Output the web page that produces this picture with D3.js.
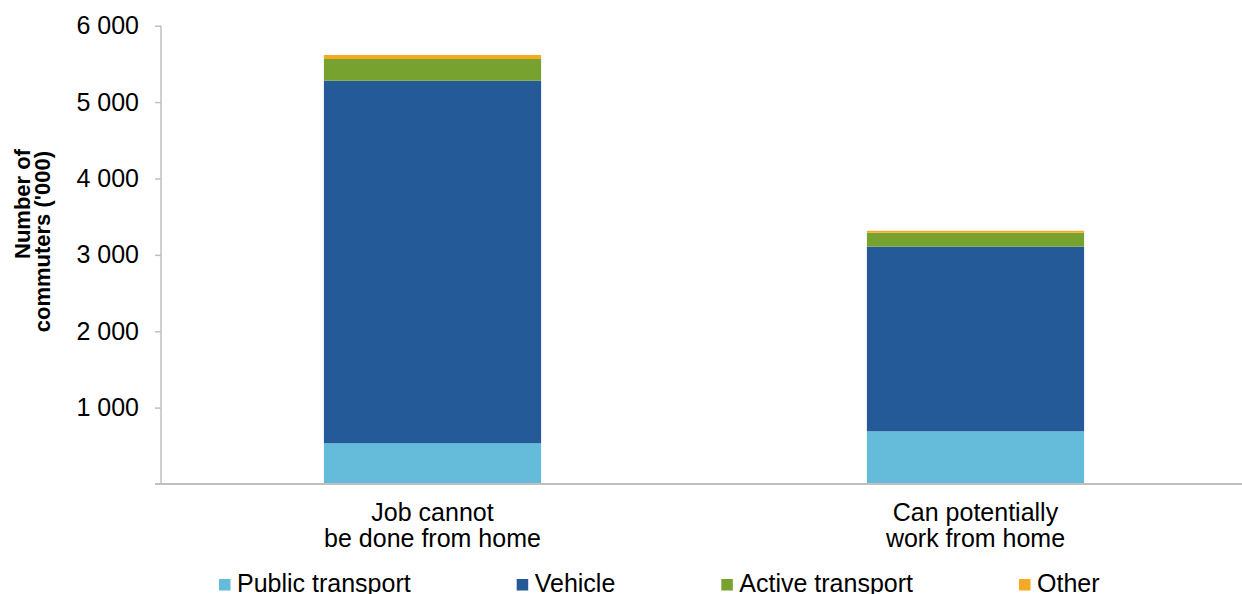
<!DOCTYPE html>
<html>
<head>
<meta charset="utf-8">
<script src="https://d3js.org/d3.v7.min.js"></script>
<style>
body{margin:0;background:#fff;}
svg{display:block;font-family:"Liberation Sans",Arial,sans-serif;}
</style>
</head>
<body>
<svg></svg>
<script>
//data
var categories = [["Job cannot","be done from home"],["Can potentially","work from home"]];
var seriesNames = ["Public transport","Vehicle","Active transport","Other"];
var seriesColors = ["#65bbda","#255a98","#77a22f","#f4ab23"];
var publicTransport = [533,690];
var vehicle = [4747,2417];
var activeTransport = [284,183];
var other = [53,25];
var yTicks = [1000,2000,3000,4000,5000,6000];

var screen = {width:1242,height:594};
var margins = {top:25.7,left:161,bottom:110,right:-5};
var width = screen.width-margins.left-margins.right;
var height = 484-margins.top;

var svg = d3.select('svg')
          .attr('width',screen.width)
          .attr('height',screen.height);

//build rows for the stack
var table = categories.map(function(c,i)
{
  return {
    idx:i,
    "Public transport":publicTransport[i],
    "Vehicle":vehicle[i],
    "Active transport":activeTransport[i],
    "Other":other[i]
  };
});
var stack = d3.stack().keys(seriesNames)(table);

var xScale = d3.scaleBand()
            .domain(d3.range(categories.length))
            .range([0,width])
            .paddingInner(0.6)
            .paddingOuter(0.3);
var yScale = d3.scaleLinear()
            .domain([0,6000])
            .range([height,0]);

var plotLand = svg.append('g')
              .classed('plot',true)
              .attr('transform','translate('+margins.left+','+margins.top+')');

//bars
var layers = plotLand.selectAll('.layer')
            .data(stack)
            .enter()
            .append('g')
            .attr('class','layer')
            .attr('fill',function(d,i){return seriesColors[i];});
layers.selectAll('rect')
      .data(function(d){return d;})
      .enter()
      .append('rect')
      .attr('x',function(d){return xScale(d.data.idx);})
      .attr('y',function(d){return yScale(d[1]);})
      .attr('width',xScale.bandwidth())
      .attr('height',function(d){return yScale(d[0])-yScale(d[1]);});

//y axis
var yAxis = d3.axisLeft(yScale)
            .tickValues(yTicks)
            .tickSize(6)
            .tickPadding(16)
            .tickFormat(function(d){return d3.format(",")(d).replace(","," ");});
var yG = plotLand.append('g').classed('yAxis',true).call(yAxis);
yG.select('.domain').remove();
yG.selectAll('line').attr('stroke','#bfbfbf').attr('stroke-width',1.5);
yG.selectAll('text').attr('font-size',25).attr('fill','#000');
plotLand.append('line')
        .attr('x1',0).attr('x2',0)
        .attr('y1',0).attr('y2',height)
        .attr('stroke','#bfbfbf').attr('stroke-width',1.5);

//x axis line
plotLand.append('line')
        .attr('x1',-6).attr('x2',width)
        .attr('y1',height).attr('y2',height)
        .attr('stroke','#bfbfbf').attr('stroke-width',2);

//category labels
var catLabels = plotLand.selectAll('.catLabel')
              .data(categories)
              .enter()
              .append('text')
              .attr('class','catLabel')
              .attr('text-anchor','middle')
              .attr('font-size',25)
              .attr('fill','#000');
catLabels.selectAll('tspan')
         .data(function(d,i){return d.map(function(t){return {t:t,i:i};});})
         .enter()
         .append('tspan')
         .attr('x',function(d){return xScale(d.i)+xScale.bandwidth()/2;})
         .attr('y',function(d,j){return height+37+j*26;})
         .text(function(d){return d.t;});

//y title
var yTitle = svg.append('text')
            .attr('transform','rotate(-90)')
            .attr('text-anchor','end')
            .attr('font-size',22)
            .attr('font-weight','bold')
            .attr('fill','#000');
yTitle.append('tspan').attr('x',-149).attr('y',30).text('Number of');
yTitle.append('tspan').attr('x',-151).attr('y',50).text("commuters ('000)");

//legend
var legend = svg.append('g').classed('legend',true);
var lx = 219;
seriesNames.forEach(function(name,i)
{
  var item = legend.append('g').attr('transform','translate('+lx+',579)');
  item.append('rect')
      .attr('width',11.5)
      .attr('height',11.5)
      .attr('fill',seriesColors[i]);
  var t = item.append('text')
      .attr('x',18)
      .attr('y',13)
      .attr('font-size',25)
      .attr('fill','#000')
      .text(name);
  lx = lx+18+t.node().getComputedTextLength()+106;
});
</script>
</body>
</html>
